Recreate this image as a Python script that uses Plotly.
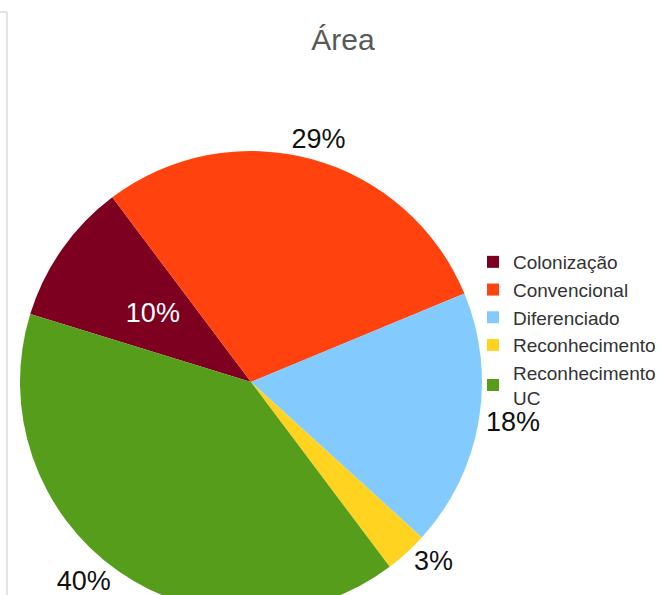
import plotly.graph_objects as go

labels = ["Colonização", "Convencional", "Diferenciado", "Reconhecimento", "Reconhecimento<br>UC"]
values = [10, 29, 18, 3, 40]
colors = ["#7E0021", "#FF420E", "#83CAFF", "#FFD320", "#579D1C"]
title_text = "Área"

W, H = 662, 640
cx, cy, r = 251, 382, 231
r_in = 157
clear = ["rgba(0,0,0,0)"] * 5


def dom(rad):
    return dict(x=[(cx - rad) / W, (cx + rad) / W], y=[(H - cy - rad) / H, (H - cy + rad) / H])


fig = go.Figure()
fig.add_trace(go.Pie(
    labels=labels,
    values=values,
    sort=False,
    direction="clockwise",
    rotation=-72.9,
    marker=dict(colors=colors, line=dict(width=0)),
    texttemplate=["", "", "%{percent}", "%{percent}", "%{percent}"],
    textposition=["none", "none", "outside", "outside", "outside"],
    outsidetextfont=dict(color="#111111", size=27, family="Liberation Sans"),
    domain=dom(r),
    hoverinfo="label+percent",
))
# label layer for the top outside percentage (centred over its slice)
fig.add_trace(go.Pie(
    labels=labels,
    values=values,
    sort=False,
    direction="clockwise",
    rotation=-80,
    marker=dict(colors=clear, line=dict(width=0)),
    texttemplate=["", "%{percent}", "", "", ""],
    textposition=["none", "outside", "none", "none", "none"],
    outsidetextfont=dict(color="#111111", size=27, family="Liberation Sans"),
    domain=dom(r),
    hoverinfo="skip",
    showlegend=False,
))
# label layer for the inside percentage
fig.add_trace(go.Pie(
    labels=labels,
    values=values,
    sort=False,
    direction="clockwise",
    rotation=-72.9,
    marker=dict(colors=clear, line=dict(width=0)),
    texttemplate=["%{percent}", "", "", "", ""],
    textposition=["inside", "none", "none", "none", "none"],
    insidetextorientation="horizontal",
    insidetextfont=dict(color="white", size=27, family="Liberation Sans"),
    domain=dom(r_in),
    hoverinfo="skip",
    showlegend=False,
))

fig.update_layout(
    width=W, height=H,
    margin=dict(l=0, r=0, t=0, b=0),
    paper_bgcolor="white",
    font=dict(family="Liberation Sans", color="#333333"),
    title=dict(text=title_text, x=343 / W, xanchor="center", xref="container",
               y=1 - 39 / H, yanchor="middle", yref="container",
               font=dict(size=30, color="#595959", family="Liberation Sans")),
    legend=dict(x=473 / W, xanchor="left", y=1 - 243 / H, yanchor="top",
                font=dict(size=19, color="#333333", family="Liberation Sans"),
                bgcolor="rgba(0,0,0,0)", tracegroupgap=0),
    showlegend=True,
    shapes=[
        dict(type="line", xref="paper", yref="paper", x0=0, x1=7 / W, y0=1 - 12 / H, y1=1 - 12 / H,
             line=dict(color="#c8c8c8", width=1)),
        dict(type="line", xref="paper", yref="paper", x0=7 / W, x1=7 / W, y0=0, y1=1 - 12 / H,
             line=dict(color="#c8c8c8", width=1)),
    ],
)

fig.write_html(
    "out.html",
    config={"displayModeBar": False},
    post_script="document.body.style.margin='0';document.body.style.overflow='hidden';document.documentElement.style.overflow='hidden';",
)
